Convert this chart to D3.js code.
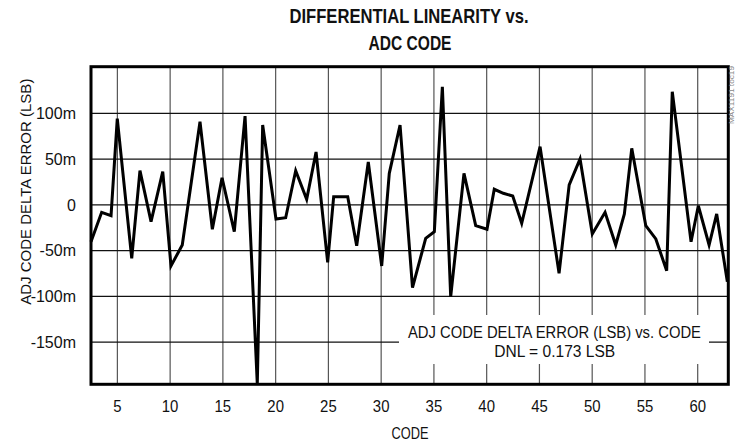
<!DOCTYPE html>
<html>
<head>
<meta charset="utf-8">
<script src="https://cdn.jsdelivr.net/npm/d3@7/dist/d3.min.js"></script>
<style>
  html, body { margin: 0; padding: 0; background: #fff; }
  svg { display: block; }
  text { font-family: "Liberation Sans", Arial, sans-serif; fill: #111; }
</style>
</head>
<body>
<svg id="chart" width="735" height="442"></svg>
<script>
// ---- data ----
const codes = [2.5,3.51,4.40,4.99,6.36,7.14,8.19,9.30,10.08,11.15,12.83,14.0,14.92,16.08,17.10,18.26,18.77,20.03,20.95,21.90,22.94,23.83,24.93,25.50,26.83,27.68,28.78,30.05,30.77,31.79,32.97,34.22,35.04,35.80,36.59,37.85,38.96,40.03,40.72,41.58,42.47,43.32,45.06,46.86,47.82,48.85,50.01,51.22,52.23,53.05,53.75,55.08,56.03,57.06,57.59,59.37,60.06,61.08,61.80,62.81];
const deltaError = [-0.0402,-0.0081,-0.0118,0.0943,-0.0583,0.0374,-0.0183,0.0363,-0.0667,-0.0438,0.0909,-0.0266,0.0297,-0.0293,0.0971,-0.1955,0.0873,-0.0154,-0.0140,0.0374,0.0061,0.0578,-0.0627,0.0090,0.0090,-0.0446,0.0469,-0.0667,0.0345,0.0873,-0.0904,-0.0365,-0.0293,0.1291,-0.1003,0.0345,-0.0227,-0.0266,0.0171,0.0127,0.0097,-0.0201,0.0636,-0.0747,0.0218,0.0502,-0.0318,-0.0081,-0.0438,-0.0099,0.0618,-0.0227,-0.0372,-0.0719,0.1237,-0.0402,-0.0009,-0.0438,-0.0099,-0.0839];
const xTicks = [5,10,15,20,25,30,35,40,45,50,55,60];
const yTicks = [0.1,0.05,0,-0.05,-0.1,-0.15];
const yTickLabels = ["100m","50m","0","-50m","-100m","-150m"];
const titleLines = ["DIFFERENTIAL LINEARITY vs.","ADC CODE"];
const legendLines = ["ADJ CODE DELTA ERROR (LSB) vs. CODE","DNL = 0.173 LSB"];
const xTitle = "CODE";
const yTitle = "ADJ CODE DELTA ERROR (LSB)";
const tocLabel = "MAX1191 toc19";

// ---- layout ----
const svg = d3.select("#chart");
const x = d3.scaleLinear().domain([2.5, 62.9]).range([91, 728.3]);
const y = d3.scaleLinear().domain([-0.196, 0.151]).range([384.3, 66.7]);
const [x0, x1] = x.range();
const [y0, y1] = y.range(); // y0 bottom, y1 top

// grid: vertical
svg.append("g").selectAll("line").data(xTicks).join("line")
  .attr("x1", d => x(d)).attr("x2", d => x(d))
  .attr("y1", y1).attr("y2", y0)
  .attr("stroke", "#555").attr("stroke-width", 1.2);
// grid: horizontal
svg.append("g").selectAll("line").data(yTicks).join("line")
  .attr("x1", x0).attr("x2", x1)
  .attr("y1", d => y(d)).attr("y2", d => y(d))
  .attr("stroke", "#111").attr("stroke-width", 1.2);

// legend box (white, masks the grid)
const lg = svg.append("g");
lg.append("rect").attr("x", 399).attr("y", 315).attr("width", 310).attr("height", 49).attr("fill", "#fff");
lg.append("text").attr("x", 554.5).attr("y", 338).attr("text-anchor", "middle")
  .attr("font-size", 16).attr("textLength", 293).attr("lengthAdjust", "spacingAndGlyphs")
  .text(legendLines[0]);
lg.append("text").attr("x", 554.7).attr("y", 356.5).attr("text-anchor", "middle")
  .attr("font-size", 16).attr("textLength", 121).attr("lengthAdjust", "spacingAndGlyphs")
  .text(legendLines[1]);

// data line
const pts = codes.map((c, i) => [c, deltaError[i]]);
svg.append("path").datum(pts)
  .attr("d", d3.line().x(d => x(d[0])).y(d => y(d[1])))
  .attr("fill", "none").attr("stroke", "#000").attr("stroke-width", 3)
  .attr("stroke-linejoin", "miter").attr("stroke-miterlimit", 4);

// frame
svg.append("rect").attr("x", x0).attr("y", y1).attr("width", x1 - x0).attr("height", y0 - y1)
  .attr("fill", "none").attr("stroke", "#000").attr("stroke-width", 3);

// x tick labels (condensed)
svg.append("g").selectAll("text").data(xTicks).join("text")
  .attr("x", d => x(d)).attr("y", 411.5).attr("text-anchor", "middle")
  .attr("font-size", 17)
  .attr("textLength", d => String(d).length * 8.3).attr("lengthAdjust", "spacingAndGlyphs")
  .text(d => d);

// y tick labels
svg.append("g").selectAll("text").data(yTicks).join("text")
  .attr("x", 76).attr("y", d => y(d)).attr("dy", "0.36em").attr("text-anchor", "end")
  .attr("font-size", 16)
  .text((d, i) => yTickLabels[i]);

// axis titles
svg.append("text").attr("x", 410).attr("y", 438.5).attr("text-anchor", "middle")
  .attr("font-size", 16).attr("textLength", 37).attr("lengthAdjust", "spacingAndGlyphs")
  .text(xTitle);
svg.append("text").attr("transform", "translate(31,191.7) rotate(-90)")
  .attr("text-anchor", "middle").attr("font-size", 15)
  .text(yTitle);

// title
svg.append("text").attr("x", 409).attr("y", 22.5).attr("text-anchor", "middle")
  .attr("font-size", 20.5).attr("font-weight", "bold")
  .attr("textLength", 239).attr("lengthAdjust", "spacingAndGlyphs")
  .text(titleLines[0]);
svg.append("text").attr("x", 410).attr("y", 50).attr("text-anchor", "middle")
  .attr("font-size", 20.5).attr("font-weight", "bold")
  .attr("textLength", 83).attr("lengthAdjust", "spacingAndGlyphs")
  .text(titleLines[1]);

// small rotated document id at top-right
svg.append("text").attr("transform", "translate(734,124) rotate(-90)")
  .attr("font-size", 7).style("fill", "#888")
  .attr("textLength", 58).attr("lengthAdjust", "spacingAndGlyphs")
  .text(tocLabel);
</script>
</body>
</html>
